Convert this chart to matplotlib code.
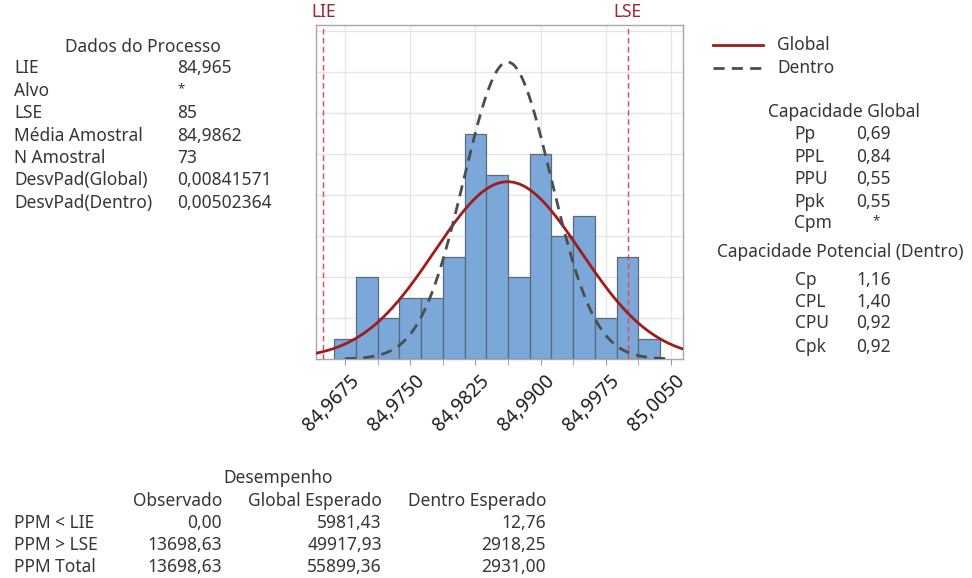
import numpy as np
import matplotlib
matplotlib.use("Agg")
import matplotlib.pyplot as plt
import matplotlib.transforms as mtransforms
from matplotlib.ticker import FixedLocator, FuncFormatter

# ---------------- data ----------------
bin_centers = [84.9675, 84.9700, 84.9725, 84.9750, 84.9775, 84.9800, 84.9825,
               84.9850, 84.9875, 84.9900, 84.9925, 84.9950, 84.9975, 85.0000, 85.0025]
counts = [1, 4, 2, 3, 3, 5, 11, 9, 4, 10, 6, 7, 2, 5, 1]
bin_width = 0.0025

lie = 84.965
lse = 85.0
mean = 84.9862
sd_global = 0.00841571
sd_within = 0.00502364
n = 73

major_ticks = [84.9675, 84.9750, 84.9825, 84.9900, 84.9975, 85.0050]
minor_ticks = [84.97125, 84.97875, 84.98625, 84.99375, 85.00125]

proc_labels = ["LIE", "Alvo", "LSE", "Média Amostral", "N Amostral",
               "DesvPad(Global)", "DesvPad(Dentro)"]
proc_values = ["84,965", "*", "85", "84,9862", "73", "0,00841571", "0,00502364"]

glob_labels = ["Pp", "PPL", "PPU", "Ppk", "Cpm"]
glob_values = ["0,69", "0,84", "0,55", "0,55", "*"]
pot_labels = ["Cp", "CPL", "CPU", "Cpk"]
pot_values = ["1,16", "1,40", "0,92", "0,92"]

perf_cols = ["Observado", "Global Esperado", "Dentro Esperado"]
perf_rows = ["PPM < LIE", "PPM > LSE", "PPM Total"]
perf_obs = ["0,00", "13698,63", "13698,63"]
perf_glob = ["5981,43", "49917,93", "55899,36"]
perf_within = ["12,76", "2918,25", "2931,00"]

# ---------------- figure ----------------
W, H = 972, 578
plt.rcParams['font.family'] = ['Noto Sans', 'DejaVu Sans']
fig = plt.figure(figsize=(W / 100, H / 100), dpi=100)

TXT = '#363636'
FS = 12.5

def fx(px):
    return px / W

def fy(py):
    return 1 - py / H

ax_l, ax_r, ax_t, ax_b = 316, 683, 25, 359
ax = fig.add_axes([fx(ax_l), fy(ax_b), (ax_r - ax_l) / W, (ax_b - ax_t) / H])

ax.bar(bin_centers, counts, width=bin_width, color='#7ba7d9',
       edgecolor='#5a6b7d', linewidth=0.9, zorder=2)

xs = np.linspace(84.96416, 85.00638, 400)
norm_g = n * bin_width / (sd_global * np.sqrt(2 * np.pi)) * np.exp(-0.5 * ((xs - mean) / sd_global) ** 2)
ax.plot(xs, norm_g, color='#a01c1c', lw=2.0, zorder=4, label='Global')
xw = np.linspace(84.9675, 85.005, 400)
norm_w = n * bin_width / (sd_within * np.sqrt(2 * np.pi)) * np.exp(-0.5 * ((xw - mean) / sd_within) ** 2)
ax.plot(xw, norm_w, color='#4d4d4d', lw=2.0, ls=(0, (4, 2.6)), zorder=4, label='Dentro')

for v, lab in [(lie, 'LIE'), (lse, 'LSE')]:
    ax.axvline(v, ymax=0.995, color='#e2474b', lw=1.0, ls=(0, (4, 2.5)), zorder=3)
    ax.text(v, 16.95, lab, color='#a3232b', ha='center', va='center',
            fontsize=12.5, transform=ax.transData, clip_on=False)

ax.set_xlim(84.96416, 85.00638)
ax.set_ylim(0, 16.3)

ax.xaxis.set_major_locator(FixedLocator(major_ticks))
ax.xaxis.set_minor_locator(FixedLocator(minor_ticks))
ax.xaxis.set_major_formatter(FuncFormatter(lambda v, p: f"{v:.4f}".replace('.', ',')))
ax.set_yticks(np.arange(2, 17, 2))
ax.set_yticklabels([])
ax.tick_params(axis='y', length=0)
ax.tick_params(axis='x', which='both', direction='out', length=4, color='#9a9a9a',
               labelsize=13.8, labelcolor='#1e1e1e', pad=2)
offset = mtransforms.ScaledTranslation(4 / 100, -4 / 100, fig.dpi_scale_trans)
for lab in ax.get_xticklabels():
    lab.set_rotation(45)
    lab.set_ha('right')
    lab.set_va('top')
    lab.set_rotation_mode('anchor')
    lab.set_transform(lab.get_transform() + offset)

ax.grid(True, which='major', color='#e6e6e6', lw=1.0, zorder=0)
ax.set_axisbelow(True)
for s in ax.spines.values():
    s.set_color('#a8a8a8')
    s.set_linewidth(1.0)

# ---------------- left text panel ----------------
fig.text(fx(143), fy(47), "Dados do Processo", ha='center', va='center', fontsize=FS, color=TXT)
ys_proc = [68, 91, 113, 136, 158, 180, 203]
for y, lab, val in zip(ys_proc, proc_labels, proc_values):
    fig.text(fx(14), fy(y), lab, ha='left', va='center', fontsize=FS, color=TXT)
    if val == '*':
        fig.text(fx(181), fy(y - 2), val, ha='center', va='center', fontsize=FS - 3, color=TXT)
    else:
        fig.text(fx(177), fy(y), val, ha='left', va='center', fontsize=FS, color=TXT)

# ---------------- legend ----------------
lg = fig.add_axes([0, 0, 1, 1], facecolor='none')
lg.set_xlim(0, W)
lg.set_ylim(H, 0)
lg.axis('off')
lg.plot([713, 763], [45, 45], color='#a01c1c', lw=2.0)
lg.plot([713, 763], [68, 68], color='#4d4d4d', lw=2.0, ls=(0, (4, 2.6)))
fig.text(fx(777), fy(45), "Global", ha='left', va='center', fontsize=FS, color=TXT)
fig.text(fx(777), fy(68), "Dentro", ha='left', va='center', fontsize=FS, color=TXT)

# ---------------- right text panel ----------------
fig.text(fx(844), fy(112), "Capacidade Global", ha='center', va='center', fontsize=FS, color=TXT)
ys_g = [134, 157, 179, 202, 223]
for y, lab, val in zip(ys_g, glob_labels, glob_values):
    fig.text(fx(794), fy(y), lab, ha='left', va='center', fontsize=FS, color=TXT)
    if val == '*':
        fig.text(fx(876), fy(y - 2), val, ha='center', va='center', fontsize=FS - 3, color=TXT)
    else:
        fig.text(fx(891), fy(y), val, ha='right', va='center', fontsize=FS, color=TXT)

fig.text(fx(840), fy(252), "Capacidade Potencial (Dentro)", ha='center', va='center', fontsize=FS, color=TXT)
ys_p = [280, 302, 323, 347]
for y, lab, val in zip(ys_p, pot_labels, pot_values):
    fig.text(fx(795), fy(y), lab, ha='left', va='center', fontsize=FS, color=TXT)
    fig.text(fx(891), fy(y), val, ha='right', va='center', fontsize=FS, color=TXT)

# ---------------- bottom table ----------------
fig.text(fx(278), fy(478), "Desempenho", ha='center', va='center', fontsize=FS, color=TXT)
col_x = [222, 382, 546]
for cx, c in zip(col_x, perf_cols):
    fig.text(fx(cx), fy(501), c, ha='right', va='center', fontsize=FS, color=TXT)
ys_t = [523, 545, 567]
for i, (y, r) in enumerate(zip(ys_t, perf_rows)):
    fig.text(fx(14), fy(y), r, ha='left', va='center', fontsize=FS, color=TXT)
    for cx, col in zip(col_x, [perf_obs, perf_glob, perf_within]):
        fig.text(fx(cx), fy(y), col[i], ha='right', va='center', fontsize=FS, color=TXT)

fig.savefig("out.png", dpi=100, facecolor='white')
